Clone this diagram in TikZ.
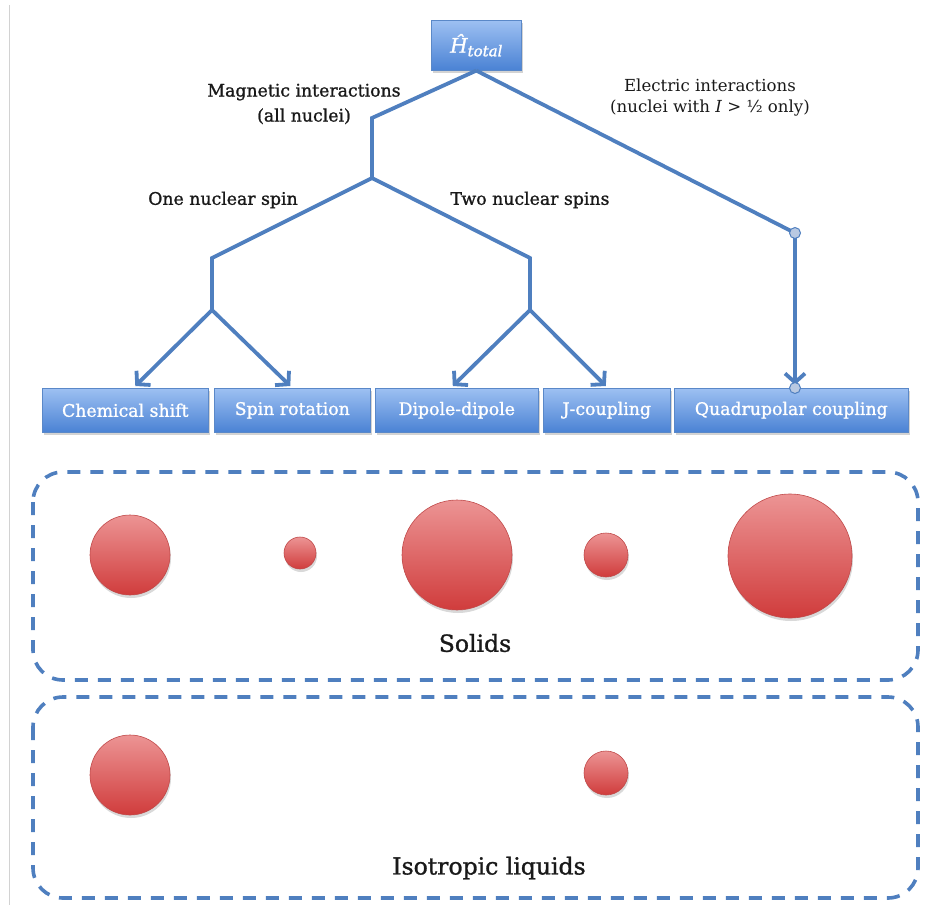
\documentclass[tikz,border=0pt]{standalone}
\usepackage{fontspec}
\setmainfont{DejaVu Serif}
\newfontfamily\heavyserif[FakeBold=1.2]{DejaVu Serif}
\usetikzlibrary{arrows.meta,shadows,calc}

\definecolor{linkblue}{HTML}{4F7FBF}
\definecolor{boxtop}{HTML}{9DC0F2}
\definecolor{boxbot}{HTML}{4A82D4}
\definecolor{boxedge}{HTML}{5A88C8}
\definecolor{balltop}{HTML}{EC9494}
\definecolor{ballbot}{HTML}{D03C3C}
\definecolor{balledge}{HTML}{C04A4A}
\definecolor{knob}{HTML}{B9C9E2}

\tikzset{
  termbox/.style={draw=boxedge, line width=0.6pt, top color=boxtop, bottom color=boxbot,
    text=white, inner sep=0pt, anchor=north west,
    drop shadow={shadow xshift=2pt, shadow yshift=-3pt, opacity=0.35},
    font=\heavyserif\fontsize{17.3}{20}\selectfont},
  link/.style={draw=linkblue, line width=3.8pt, line join=miter},
  arrowlink/.style={link, -{Straight Barb[length=9pt,width=20pt,line width=3.8pt]}},
  knobdot/.style={circle, draw=linkblue, fill=knob, line width=1pt, minimum size=11pt, inner sep=0pt},
  ball/.style={circle, draw=balledge, line width=0.6pt, top color=balltop, bottom color=ballbot,
    inner sep=0pt, drop shadow={shadow xshift=1pt, shadow yshift=-3pt, opacity=0.3}},
  groupframe/.style={draw=linkblue, line width=3.6pt, dash pattern=on 13pt off 10pt,
    rounded corners=30pt},
  branchlabel/.style={font=\heavyserif\fontsize{17.3}{25}\selectfont, align=center, text=black!90},
  grouplabel/.style={font=\heavyserif\fontsize{23.5}{28}\selectfont, text=black!90}
}

\begin{document}
\begin{tikzpicture}[x=1pt,y=-1pt]
  \useasboundingbox (0,0) rectangle (926,908);

  % thin page edge on the left
  \draw[gray!35, line width=0.8pt] (9,5) -- (9,905);

  % top of the tree
  \node[termbox, minimum width=90pt, minimum height=50pt] (ht) at (431,20)
    {\itshape\fontsize{20}{22}\selectfont Ĥ\raisebox{-0.35ex}{\fontsize{15}{16}\selectfont total}};

  % interaction terms
  \node[termbox, minimum width=166pt, minimum height=44pt] (cs) at (42,388) {Chemical shift};
  \node[termbox, minimum width=156pt, minimum height=44pt] (sr) at (214,388) {Spin rotation};
  \node[termbox, minimum width=163pt, minimum height=44pt] (dd) at (375,388) {Dipole-dipole};
  \node[termbox, minimum width=127pt, minimum height=44pt] (jc) at (543,388) {J-coupling};
  \node[termbox, minimum width=234pt, minimum height=44pt] (qc) at (674,388) {Quadrupolar coupling};

  % branch points
  \coordinate (m1) at (372,118);
  \coordinate (m2) at (372,178);
  \coordinate (l1) at (212,258);
  \coordinate (l2) at (212,310);
  \coordinate (r1) at (530,258);
  \coordinate (r2) at (530,310);
  \coordinate (e1) at (795,233);

  % magnetic branch
  \draw[link] (ht.south) -- (m1) -- (m2);
  \draw[link] (m2) -- (l1) -- (l2);
  \draw[link] (m2) -- (r1) -- (r2);
  \draw[arrowlink] (l2) -- ($(cs.north)+(10,-2)$);
  \draw[arrowlink] (l2) -- ($(sr.north)+(-2,-2)$);
  \draw[arrowlink] (r2) -- ($(dd.north)+(-4,-2)$);
  \draw[arrowlink] (r2) -- ($(jc.north)+(-1,-2)$);

  % electric branch
  \draw[link] (ht.south) -- (e1);
  \draw[arrowlink] (e1) -- ($(qc.north -| e1)+(0,-3)$);
  \node[knobdot] (k1) at (e1) {};
  \node[knobdot] (k2) at (qc.north -| e1) {};

  % branch labels
  \node[branchlabel] (lm) at (304,104) {Magnetic interactions\\(all nuclei)};
  \node[branchlabel, font=\fontsize{16.6}{21}\selectfont] (le) at (710,98)
    {Electric interactions\\(nuclei with \textit{I} > ½ only)};
  \node[branchlabel] (l1lab) at (223,200) {One nuclear spin};
  \node[branchlabel] (l2lab) at (530,200) {Two nuclear spins};

  % solids
  \draw[groupframe] (33,472) rectangle (918,680);
  \node[ball, minimum size=80pt]  (s1) at (130,555) {};
  \node[ball, minimum size=32pt]  (s2) at (300,553) {};
  \node[ball, minimum size=110pt] (s3) at (457,555) {};
  \node[ball, minimum size=44pt]  (s4) at (606,555) {};
  \node[ball, minimum size=124pt] (s5) at (790,556) {};
  \node[grouplabel] (solids) at (475,643) {Solids};

  % isotropic liquids
  \draw[groupframe] (33,697) rectangle (918,898);
  \node[ball, minimum size=80pt] (q1) at (130,775) {};
  \node[ball, minimum size=44pt] (q2) at (606,773) {};
  \node[grouplabel] (liquids) at (489,868) {Isotropic liquids};
\end{tikzpicture}
\end{document}
